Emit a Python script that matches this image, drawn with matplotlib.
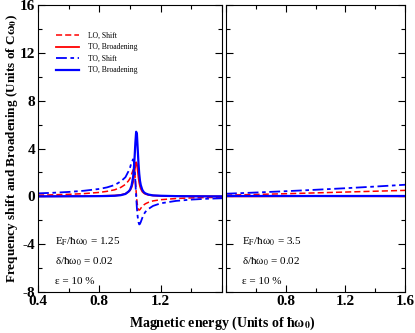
import matplotlib
matplotlib.use('Agg')
from matplotlib import pyplot as plt

plt.rcParams['font.family'] = 'Liberation Serif'
plt.rcParams['mathtext.fontset'] = 'stix'

# left panel (E_F = 1.25)
x_l = [0.4, 0.5, 0.6, 0.7, 0.8, 0.85, 0.9, 0.94, 0.97, 0.99, 1.0, 1.01, 1.02, 1.025, 1.03, 1.035,
       1.04, 1.045, 1.05, 1.055, 1.06, 1.065, 1.07, 1.08, 1.09, 1.1, 1.12, 1.15, 1.2, 1.3, 1.4, 1.5, 1.6]
lo_shift_l = [0.1, 0.13, 0.17, 0.23, 0.33, 0.42, 0.55, 0.75, 1.0, 1.3, 1.5, 1.85, 2.2, 2.3, 2.1, 1.4,
              0.4, -0.4, -0.9, -1.12, -1.15, -1.1, -1.0, -0.85, -0.72, -0.62, -0.5, -0.38, -0.28, -0.18, -0.13, -0.1, -0.08]
lo_broad_l = [0.0, 0.01, 0.01, 0.02, 0.03, 0.05, 0.07, 0.12, 0.22, 0.38, 0.5, 0.75, 1.2, 1.6, 2.1, 2.6,
              2.85, 2.7, 2.2, 1.6, 1.15, 0.85, 0.65, 0.4, 0.28, 0.2, 0.12, 0.07, 0.04, 0.02, 0.01, 0.01, 0.0]
to_shift_l = [0.25, 0.3, 0.37, 0.47, 0.62, 0.75, 0.95, 1.25, 1.6, 2.1, 2.4, 2.85, 3.1, 2.9, 2.3, 1.2,
              0.0, -1.0, -1.7, -2.15, -2.35, -2.3, -2.15, -1.8, -1.5, -1.3, -1.05, -0.8, -0.58, -0.38, -0.27, -0.2, -0.16]
to_broad_l = [0.0, 0.0, 0.01, 0.01, 0.02, 0.03, 0.05, 0.1, 0.2, 0.4, 0.55, 0.9, 1.6, 2.3, 3.3, 4.5,
              5.4, 5.2, 4.0, 2.8, 1.9, 1.3, 0.95, 0.55, 0.35, 0.25, 0.15, 0.08, 0.05, 0.02, 0.01, 0.0, 0.0]

# right panel (E_F = 3.5)
x_r = [0.4, 0.6, 0.8, 1.0, 1.2, 1.4, 1.6]
lo_shift_r = [0.1, 0.16, 0.22, 0.29, 0.36, 0.43, 0.5]
lo_broad_r = [0.0, 0.0, 0.01, 0.02, 0.01, 0.01, 0.0]
to_shift_r = [0.22, 0.32, 0.43, 0.55, 0.68, 0.82, 0.97]
to_broad_r = [0.0, 0.0, 0.0, 0.0, 0.0, 0.0, 0.0]

labels = ['LO, Shift', 'TO, Broadening', 'TO, Shift', 'TO, Broadening']
notes_l = [r'E$_\mathrm{F}$/ħω$_0$ = 1.25', r'δ/ħω$_0$ = 0.02', 'ε = 10 %']
notes_r = [r'E$_\mathrm{F}$/ħω$_0$ = 3.5', r'δ/ħω$_0$ = 0.02', 'ε = 10 %']

fig = plt.figure(figsize=(4.15, 3.33), dpi=100)
ax1 = fig.add_axes([0.0916, 0.123, 0.4434, 0.862])
ax2 = fig.add_axes([0.5446, 0.123, 0.4314, 0.862])

dd = (6, 2, 2, 2)
for ax, x, a, b, c, d, notes in [(ax1, x_l, lo_shift_l, lo_broad_l, to_shift_l, to_broad_l, notes_l),
                                 (ax2, x_r, lo_shift_r, lo_broad_r, to_shift_r, to_broad_r, notes_r)]:
    ax.plot(x, a, color='red', linewidth=1.1, dashes=(4, 2), label=labels[0])
    ax.plot(x, b, color='red', linewidth=1.3, label=labels[1])
    ax.plot(x, c, color='blue', linewidth=1.3, dashes=dd, label=labels[2])
    ax.plot(x, d, color='blue', linewidth=1.6, label=labels[3])
    ax.set_xlim(0.4, 1.6)
    ax.set_ylim(-8, 16)
    ax.set_xticks([0.4, 0.8, 1.2, 1.6])
    ax.set_xticks([0.6, 1.0, 1.4], minor=True)
    ax.set_yticks([-8, -4, 0, 4, 8, 12, 16])
    ax.set_yticks([-6, -2, 2, 6, 10, 14], minor=True)
    ax.tick_params(which='both', direction='in', top=True, right=True, labelsize=11, pad=2)
    ax.tick_params(which='major', length=5, width=0.8)
    ax.tick_params(which='minor', length=3, width=0.8)
    for i, t in enumerate(notes):
        ax.text(0.09, 0.175 - i * 0.07, t, transform=ax.transAxes, fontsize=8, va='center')

ax1.set_xticklabels(['0.4', '0.8', '1.2', ''])
ax2.set_xticklabels(['', '0.8', '1.2', '1.6'])
ax2.set_yticklabels([])
ax1.set_yticklabels(['-8', '-4', '0', '4', '8', '12', '16'])
for lab in ax1.get_xticklabels() + ax2.get_xticklabels() + ax1.get_yticklabels():
    lab.set_fontweight('bold')

ax1.legend(loc='upper left', bbox_to_anchor=(0.06, 0.93), fontsize=5.5, frameon=False,
           handlelength=3.0, handletextpad=1.2, labelspacing=0.45)

ax1.set_ylabel(r'Frequency shift and Broadening (Units of Cω$_\mathbf{0}$)', fontsize=9.5,
               fontweight='bold')
ax1.yaxis.set_label_coords(-0.1, 0.5)
fig.text(0.535, 0.02, r'Magnetic energy (Units of ħω$_\mathbf{0}$)', fontsize=10,
         fontweight='bold', ha='center')

fig.savefig('out.png', dpi=100)
